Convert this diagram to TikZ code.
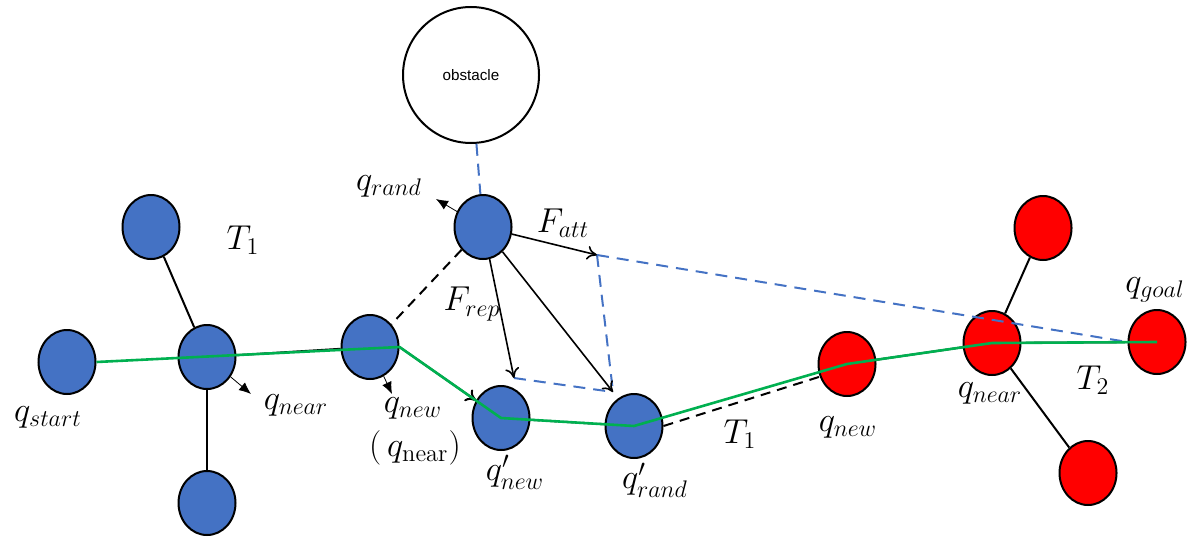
\documentclass[tikz,border=0pt]{standalone}
\usepackage{fontspec}
\newfontfamily\obsfont{Liberation Sans}
\usetikzlibrary{shapes.geometric,arrows.meta,backgrounds}
\definecolor{nodeblue}{HTML}{4472C4}
\definecolor{nodered}{HTML}{FF0000}
\definecolor{pathgreen}{HTML}{00B050}
\definecolor{dashblue}{HTML}{4472C4}
\tikzset{
  bnode/.style={ellipse,draw=black,line width=1pt,fill=nodeblue,minimum width=28.5pt,minimum height=32pt,inner sep=0pt},
  rnode/.style={bnode,fill=nodered},
  edge/.style={draw=black,line width=1pt},
  dedge/.style={edge,dash pattern=on 5pt off 3.5pt},
  bdash/.style={draw=dashblue,line width=1pt,dash pattern=on 6pt off 4pt},
  force/.style={edge,line width=0.8pt,-{To[length=5pt,width=7pt]}},
  labarrow/.style={draw=black,line width=0.4pt,-{Latex[length=6pt,width=5pt]}},
  green/.style={draw=pathgreen,line width=1.3pt},
  lab/.style={font=\fontsize{17.5}{21}\selectfont,inner sep=0pt}
}
\begin{document}
\begin{tikzpicture}[x=0.5pt,y=-0.5pt]
\useasboundingbox (0,0) rectangle (1202,540);
% obstacle
\node[circle,draw=black,line width=1pt,minimum size=68pt,inner sep=0pt,font=\obsfont\fontsize{7.6}{9}\selectfont] (obs) at (471,75) {obstacle};
% blue nodes
\node[bnode] (b1) at (67,362) {};
\node[bnode] (b2) at (151,227) {};
\node[bnode] (b3) at (207,357) {};
\node[bnode] (b4) at (207,503) {};
\node[bnode] (b5) at (370,347) {};
\node[bnode] (b6) at (483,227) {};
\node[bnode] (b7) at (501,418) {};
\node[bnode] (b8) at (634,426) {};
% red nodes
\node[rnode] (r1) at (847,364) {};
\node[rnode] (r2) at (992,343) {};
\node[rnode] (r3) at (1043,228) {};
\node[rnode] (r4) at (1088,473) {};
\node[rnode] (r5) at (1157,342) {};
% force tips
\coordinate (fa) at (597,255);
\coordinate (fr) at (514,378);
\coordinate (fres) at (613,392);
\coordinate (qra) at (436,199);
\coordinate (qna) at (251,394);
\coordinate (qnwa) at (392,394);
% edges behind nodes
\begin{scope}[on background layer]
\draw[edge] (b2) -- (b3);
\draw[edge] (b3) -- (b4);
\draw[edge] (b3) -- (b5);
\draw[dedge] (b6) -- (b5);
\draw[edge,-{To[length=5pt,width=7pt]}] (b5.east) -- (b7);
\draw[dedge] (b7) -- (b8);
\draw[dedge] (b8.east) -- (r1.205);
\draw[edge] (r1) -- (r2);
\draw[edge] (r2) -- (r3);
\draw[edge] (r2) -- (r4);
\draw[edge] (r2) -- (r5);
\end{scope}
% blue dashed construction lines
\draw[bdash] (obs) -- (b6);
\draw[bdash] (fa) -- (fres);
\draw[bdash] (fr) -- (fres);
\draw[bdash] (fa) -- (r5.west);
% forces
\draw[force] (b6) -- (fa);
\draw[force] (b6) -- (fr);
\draw[force] (b6) -- (fres);
% label arrows
\draw[labarrow] (b6) -- (qra);
\draw[labarrow] (b3) -- (qna);
\draw[labarrow] (b5) -- (qnwa);
% green path
\draw[green] (b1.east) -- (b5.east) -- (b7.center) -- (b8.center) -- (r1.center) -- (r2.center) -- (r5.center);
% labels
\node[lab] (lt1) at (243,240) {$T_1$};
\node[lab] (lqstart) at (48,417) {$q_{start}$};
\node[lab] (lqnear) at (296,405) {$q_{near}$};
\node[lab] (lqnew) at (413,408) {$q_{new}$};
\node[lab] (lqnear2) at (415,448) {$(\,q_{\mathrm{near}})$};
\node[lab] (lqrand) at (389,186) {$q_{rand}$};
\node[lab] (lfatt) at (563,223) {$F_{att}$};
\node[lab] (lfrep) at (472,304) {$F_{rep}$};
\node[lab] (lqnewp) at (515,472) {$q'_{new}$};
\node[lab] (lqrandp) at (655,480) {$q'_{rand}$};
\node[lab] (lt1b) at (740,434) {$T_1$};
\node[lab] (lrqnew) at (848,427) {$q_{new}$};
\node[lab] (lrqnear) at (990,393) {$q_{near}$};
\node[lab] (lt2) at (1093,380) {$T_2$};
\node[lab] (lqgoal) at (1155,290) {$q_{goal}$};
\end{tikzpicture}
\end{document}
